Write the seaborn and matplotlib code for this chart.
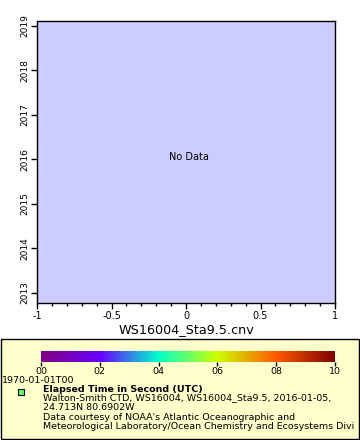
import numpy as np
import pandas as pd
import seaborn as sns
import matplotlib
matplotlib.use("Agg")
import matplotlib.pyplot as plt
from matplotlib.colors import LinearSegmentedColormap
from matplotlib.patches import Rectangle
import matplotlib.colorbar as mcolorbar
from matplotlib.ticker import MultipleLocator

# ---- data ----
x_values = []          # no data
y_values = []
x_ticks = [-1, -0.5, 0, 0.5, 1]
x_tick_labels = ["-1", "-0.5", "0", "0.5", "1"]
y_ticks = [2013, 2014, 2015, 2016, 2017, 2018, 2019]
y_tick_labels = ["2013", "2014", "2015", "2016", "2017", "2018", "2019"]
cbar_ticks = [0, 2, 4, 6, 8, 10]
cbar_tick_labels = ["00", "02", "04", "06", "08", "10"]
cbar_colors = ["#800080", "#6a00ff", "#00ffcc", "#ccff00", "#ff5a00", "#800000"]
x_label = "WS16004_Sta9.5.cnv"
cbar_start_label = "1970-01-01T00"
legend_title = "Elapsed Time in Second (UTC)"
legend_lines = [
    "Walton-Smith CTD, WS16004, WS16004_Sta9.5, 2016-01-05,",
    "24.713N 80.6902W",
    "Data courtesy of NOAA's Atlantic Oceanographic and",
    "Meteorological Laboratory/Ocean Chemistry and Ecosystems Divi",
]

sns.set_style("white")
plt.rcParams["font.family"] = ["DejaVu Sans"]
plt.rcParams["text.color"] = "black"
plt.rcParams["xtick.color"] = "black"
plt.rcParams["ytick.color"] = "black"
plt.rcParams["axes.labelcolor"] = "black"

W, H = 360, 440
fig = plt.figure(figsize=(W / 100, H / 100), dpi=100)
fig.patch.set_facecolor("white")

def fx(px):
    return px / W

def fy(py):
    return 1 - py / H

# ---- main axes ----
ax = fig.add_axes([fx(37), fy(303), fx(335) - fx(37), fy(20.7) - fy(303)])
df = pd.DataFrame({"x": pd.Series(x_values, dtype=float), "y": pd.Series(y_values, dtype=float)})
sns.scatterplot(data=df, x="x", y="y", ax=ax)
ax.set_facecolor("#ccccff")
ax.set_xlim(-1, 1)
ax.set_ylim(2012.77, 2019.11)
ax.set_xticks(x_ticks)
ax.set_xticklabels(x_tick_labels, fontsize=7)
ax.xaxis.set_minor_locator(MultipleLocator(0.1))
ax.set_yticks(y_ticks)
ax.set_yticklabels(y_tick_labels, fontsize=6.5, rotation=90, va="center")
ax.tick_params(axis="both", which="major", direction="out", length=4, width=1, color="black", pad=1.5,
               bottom=True, left=True)
ax.tick_params(axis="x", which="minor", direction="out", length=2, width=1, color="black", bottom=True)
for s in ax.spines.values():
    s.set_color("black")
    s.set_linewidth(1)
ax.set_xlabel(x_label, fontsize=9.2, labelpad=2, color="black")
ax.set_ylabel("")
fig.text(fx(189), fy(157), "No Data", ha="center", va="center", fontsize=7, color="black")

# ---- legend box ----
box = Rectangle((fx(0.5), fy(439)), fx(359) - fx(0.5), fy(339) - fy(439), transform=fig.transFigure,
                facecolor="#ffffcc", edgecolor="black", linewidth=1, zorder=-5)
fig.patches.append(box)

cmap = LinearSegmentedColormap.from_list("erddap_rainbow", cbar_colors)
cax = fig.add_axes([fx(41), fy(361.5), fx(335) - fx(41), fy(351) - fy(361.5)])
cax.set_zorder(5)
norm = matplotlib.colors.Normalize(vmin=cbar_ticks[0], vmax=cbar_ticks[-1])
cb = mcolorbar.ColorbarBase(cax, cmap=cmap, norm=norm, orientation="horizontal")
cb.outline.set_visible(False)
cb.set_ticks(cbar_ticks)
cb.set_ticklabels(cbar_tick_labels)
cax.tick_params(axis="x", length=3, width=1, color="black", labelsize=6.8, pad=1.2, direction="out",
                labelcolor="black")

fig.text(fx(2), fy(380.5), cbar_start_label, fontsize=6.8, va="center", ha="left", color="black")
marker = Rectangle((fx(17.5), fy(395)), fx(6), fy(389) - fy(395), transform=fig.transFigure,
                   facecolor="#66ff66", edgecolor="black", linewidth=0.8, zorder=6)
fig.patches.append(marker)
fig.text(fx(43), fy(389), legend_title, fontsize=6.8, fontweight="bold", va="center", ha="left", color="black")
line_y = [398, 407.5, 417, 426.5]
for yy, t in zip(line_y, legend_lines):
    fig.text(fx(43), fy(yy), t, fontsize=6.8, va="center", ha="left", color="black")

fig.savefig("out.png", dpi=100)
